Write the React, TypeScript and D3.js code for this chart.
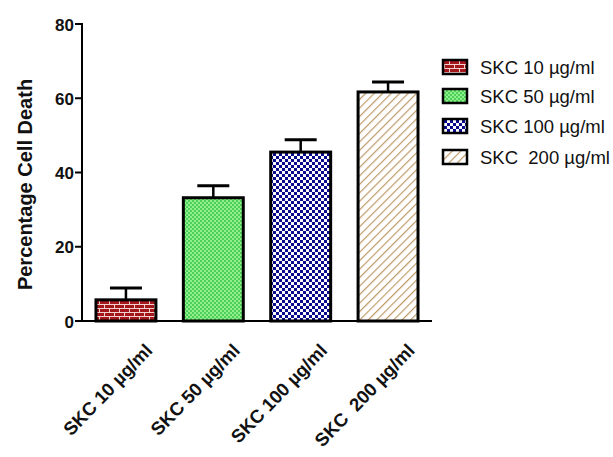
import React from "react";
import * as d3 from "d3";

const categories = ["SKC 10 µg/ml", "SKC 50 µg/ml", "SKC 100 µg/ml", "SKC  200 µg/ml"];
const means = [5.7, 33.2, 45.5, 61.7];
const errors = [3.2, 3.2, 3.3, 2.7];
const yTicks = [0, 20, 40, 60, 80];
const patternIds = ["brick", "greenCheck", "blueCheck", "tanStripe"];

const W = 613;
const H = 457;
const margin = { left: 82, top: 24, bottom: 136 };
const plotRight = 432;
const y0 = 321;

export default function App() {
  const x = d3
    .scaleBand<string>()
    .domain(categories)
    .range([margin.left, plotRight])
    .paddingInner(0.314)
    .paddingOuter(0.16);
  const y = d3.scaleLinear().domain([0, 80]).range([y0, margin.top]);
  const bw = x.bandwidth();
  const font = "Arial, 'Liberation Sans', sans-serif";

  return (
    <svg width={W} height={H} style={{ position: "absolute", left: 0, top: 0, background: "#fff" }}>
      <defs>
        <pattern id="brick" width="10" height="8" patternUnits="userSpaceOnUse" x={margin.left}>
          <rect width="10" height="8" fill="#a3161a" />
          <line x1="0" y1="0.5" x2="10" y2="0.5" stroke="#f3d0d0" strokeWidth="1" />
          <line x1="0" y1="4.5" x2="10" y2="4.5" stroke="#f3d0d0" strokeWidth="1" />
          <line x1="2.5" y1="0" x2="2.5" y2="4" stroke="#f3d0d0" strokeWidth="1" />
          <line x1="7.5" y1="4" x2="7.5" y2="8" stroke="#f3d0d0" strokeWidth="1" />
        </pattern>
        <pattern id="greenCheck" width="4" height="4" patternUnits="userSpaceOnUse">
          <rect width="4" height="4" fill="#8ff08f" />
          <rect width="2" height="2" fill="#4fcf55" />
          <rect x="2" y="2" width="2" height="2" fill="#4fcf55" />
        </pattern>
        <pattern id="blueCheck" width="6" height="6" patternUnits="userSpaceOnUse">
          <rect width="6" height="6" fill="#ffffff" />
          <rect width="3" height="3" fill="#0a0a8c" />
          <rect x="3" y="3" width="3" height="3" fill="#0a0a8c" />
        </pattern>
        <pattern id="tanStripe" width="6" height="6" patternUnits="userSpaceOnUse" patternTransform="rotate(45)">
          <rect width="6" height="6" fill="#ffffff" />
          <line x1="0" y1="0" x2="0" y2="6" stroke="#bf9a68" strokeWidth="2.4" />
        </pattern>
      </defs>

      {/* bars */}
      {categories.map((c, i) => {
        const bx = x(c)!;
        const top = y(means[i]);
        const cx = bx + bw / 2;
        const et = y(means[i] + errors[i]);
        return (
          <g key={c}>
            <line x1={cx} x2={cx} y1={top} y2={et} stroke="#000" strokeWidth={2.5} />
            <line x1={cx - 16} x2={cx + 16} y1={et} y2={et} stroke="#000" strokeWidth={3} />
            <rect
              x={bx}
              y={top}
              width={bw}
              height={y0 - top}
              fill={`url(#${patternIds[i]})`}
              stroke="#000"
              strokeWidth={3}
            />
          </g>
        );
      })}

      {/* axes */}
      <line x1={margin.left} x2={margin.left} y1={margin.top - 1} y2={y0 + 1} stroke="#000" strokeWidth={2} />
      <line x1={margin.left - 1} x2={plotRight} y1={y0} y2={y0} stroke="#000" strokeWidth={2} />
      {yTicks.map((t) => (
        <g key={t}>
          <line x1={margin.left - 7} x2={margin.left} y1={y(t)} y2={y(t)} stroke="#000" strokeWidth={2} />
          <text
            x={margin.left - 8}
            y={y(t) + 1}
            textAnchor="end"
            dominantBaseline="central"
            fontFamily={font}
            fontWeight="bold"
            fontSize={17}
            fill="#111"
          >
            {t}
          </text>
        </g>
      ))}

      <text
        transform={`translate(32, ${(y0 + margin.top) / 2 + 12}) rotate(-90)`}
        textAnchor="middle"
        fontFamily={font}
        fontWeight="bold"
        fontSize={20}
        fill="#111"
      >
        Percentage Cell Death
      </text>

      {categories.map((c) => {
        const cx = x(c)! + bw / 2;
        return (
          <text
            key={c}
            transform={`translate(${cx + 23}, ${y0 + 26}) rotate(-46)`}
            textAnchor="end"
            fontFamily={font}
            fontWeight="bold"
            fontSize={18.5}
            fill="#111"
            dominantBaseline="central"
            style={{ whiteSpace: "pre" }}
          >
            {c}
          </text>
        );
      })}

      {/* legend */}
      {categories.map((c, i) => {
        const ly = [67, 96, 126, 157][i];
        return (
          <g key={c}>
            <rect x={443} y={ly - 7} width={24} height={14} fill={`url(#${patternIds[i]})`} stroke="#000" strokeWidth={2.5} />
            <text
              x={480}
              y={ly}
              dominantBaseline="central"
              fontFamily={font}
              fontSize={18.5}
              fill="#111"
              style={{ whiteSpace: "pre" }}
            >
              {c}
            </text>
          </g>
        );
      })}
    </svg>
  );
}
